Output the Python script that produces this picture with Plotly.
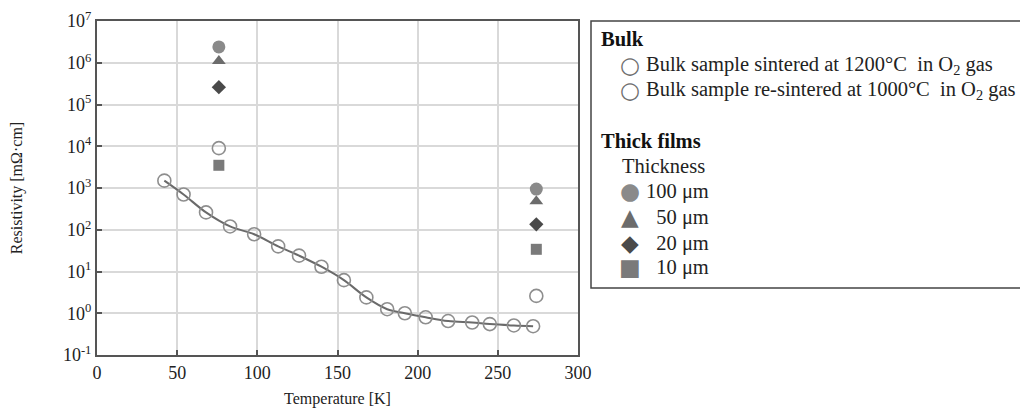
import plotly.graph_objects as go

# Bulk sample sintered at 1200°C in O2 gas (curve)
bulk_T = [42, 54, 68, 83, 98, 113, 126, 140, 154, 168, 181, 192, 205, 219, 234, 245, 260, 272]
bulk_R = [1.5e3, 7e2, 2.6e2, 1.2e2, 78, 40, 24, 13, 6.2, 2.4, 1.25, 1.0, 0.8, 0.65, 0.6, 0.55, 0.51, 0.49]

# Bulk sample re-sintered at 1000°C in O2 gas
resint_T = [76, 274]
resint_R = [9e3, 2.6]

# Thick films
film_T = [76, 274]
film_100 = [2.4e6, 940]
film_50 = [1.1e6, 480]
film_20 = [2.6e5, 135]
film_10 = [3.5e3, 34]

ytick_vals = [1e-1, 1e0, 1e1, 1e2, 1e3, 1e4, 1e5, 1e6, 1e7]
ytick_text = ["10<sup>-1</sup>", "10<sup>0</sup>", "10<sup>1</sup>", "10<sup>2</sup>", "10<sup>3</sup>",
              "10<sup>4</sup>", "10<sup>5</sup>", "10<sup>6</sup>", "10<sup>7</sup>"]
xtick_vals = [0, 50, 100, 150, 200, 250, 300]

legend_rows = [
    # (kind, symbol, symbol colour, label)
    ("title", "", "", "<b>Bulk</b>"),
    ("item", "○", "#6e6e6e", "Bulk sample sintered at 1200°C\u00a0 in O<sub>2</sub> gas"),
    ("item", "○", "#6e6e6e", "Bulk sample re-sintered at 1000°C\u00a0 in O<sub>2</sub> gas"),
    ("gap", "", "", ""),
    ("title", "", "", "<b>Thick films</b>"),
    ("sub", "", "", "Thickness"),
    ("item", "●", "#8a8a8a", "100 μm"),
    ("item", "▲", "#6c6c6c", "\u00a0\u00a050 μm"),
    ("item", "◆", "#4a4a4a", "\u00a0\u00a020 μm"),
    ("item", "■", "#7a7a7a", "\u00a0\u00a010 μm"),
]

FONT = "Liberation Serif, Times New Roman, serif"
W, H = 1020, 400
ML, MR, MT, MB = 89, 450, 13, 53
PW, PH = W - ML - MR, H - MT - MB


def px(fx):
    return (fx - ML) / PW


def py(fy):
    return (H - MB - fy) / PH


fig = go.Figure()

# smooth line through bulk data
fig.add_trace(go.Scatter(
    x=bulk_T, y=bulk_R, mode="lines", line=dict(color="#6a6a6a", width=2, shape="spline"),
    showlegend=False, hoverinfo="skip"))

fig.add_trace(go.Scatter(
    x=bulk_T, y=bulk_R, mode="markers",
    marker=dict(symbol="circle-open", size=13, color="#8e8e8e", line=dict(width=1.6, color="#8e8e8e")),
    name="Bulk sample sintered at 1200°C in O2 gas", showlegend=False))

fig.add_trace(go.Scatter(
    x=resint_T, y=resint_R, mode="markers",
    marker=dict(symbol="circle-open", size=13, color="#8e8e8e", line=dict(width=1.6, color="#8e8e8e")),
    name="Bulk sample re-sintered at 1000°C in O2 gas", showlegend=False))

fig.add_trace(go.Scatter(
    x=film_T, y=film_100, mode="markers",
    marker=dict(symbol="circle", size=13, color="#8a8a8a"), name="100 μm", showlegend=False))
fig.add_trace(go.Scatter(
    x=film_T, y=film_50, mode="markers",
    marker=dict(symbol="triangle-up", size=12, color="#6c6c6c"), name="50 μm", showlegend=False))
fig.add_trace(go.Scatter(
    x=film_T, y=film_20, mode="markers",
    marker=dict(symbol="diamond", size=11, color="#4a4a4a"), name="20 μm", showlegend=False))
fig.add_trace(go.Scatter(
    x=film_T, y=film_10, mode="markers",
    marker=dict(symbol="square", size=11, color="#7a7a7a"), name="10 μm", showlegend=False))

# legend box (manual, to match the reference layout)
fig.add_shape(type="rect", xref="paper", yref="paper",
              x0=px(583), x1=px(1035), y0=py(13), y1=py(280),
              line=dict(color="#444", width=1.5), fillcolor="white", layer="above")

row_y = [31, 57, 82, None, 133, 158, 183, 209, 235, 259]
for (kind, sym, col, label), fy in zip(legend_rows, row_y):
    if kind == "gap":
        continue
    if kind == "title":
        fig.add_annotation(x=px(591), y=py(fy), xref="paper", yref="paper", text=label,
                           showarrow=False, xanchor="left", yanchor="middle",
                           font=dict(family=FONT, size=20.5, color="#111"))
    elif kind == "sub":
        fig.add_annotation(x=px(612), y=py(fy), xref="paper", yref="paper", text=label,
                           showarrow=False, xanchor="left", yanchor="middle",
                           font=dict(family=FONT, size=20.5, color="#222"))
    else:
        fig.add_annotation(x=px(622), y=py(fy), xref="paper", yref="paper", text=sym,
                           showarrow=False, xanchor="center", yanchor="middle",
                           font=dict(family="DejaVu Sans", size=23, color=col))
        fig.add_annotation(x=px(636), y=py(fy), xref="paper", yref="paper", text=label,
                           showarrow=False, xanchor="left", yanchor="middle",
                           font=dict(family=FONT, size=20.5, color="#222"))

fig.update_layout(
    width=W, height=H,
    margin=dict(l=ML, r=MR, t=MT, b=MB, autoexpand=False),
    paper_bgcolor="white", plot_bgcolor="white",
    font=dict(family=FONT, size=16, color="#222"),
    showlegend=False,
    xaxis=dict(
        range=[0, 300], tickvals=xtick_vals, showgrid=True, gridcolor="#d9d9d9", gridwidth=2,
        showline=True, linecolor="#555", linewidth=2, mirror=True, automargin=False,
        ticks="inside", ticklen=5, tickcolor="#555", tickwidth=1.5, zeroline=False,
        title=dict(text="Temperature [K]", font=dict(size=16), standoff=11),
        tickfont=dict(size=18)),
    yaxis=dict(
        type="log", range=[-1, 7], tickvals=ytick_vals, ticktext=ytick_text,
        showgrid=True, gridcolor="#d9d9d9", gridwidth=2,
        showline=True, linecolor="#555", linewidth=2, mirror=True, automargin=False,
        ticks="inside", ticklen=5, tickcolor="#555", tickwidth=1.5, zeroline=False,
        title=dict(text="Resistivity [mΩ·cm]", font=dict(size=16), standoff=36),
        tickfont=dict(size=18)),
)

fig.write_html("out.html")
